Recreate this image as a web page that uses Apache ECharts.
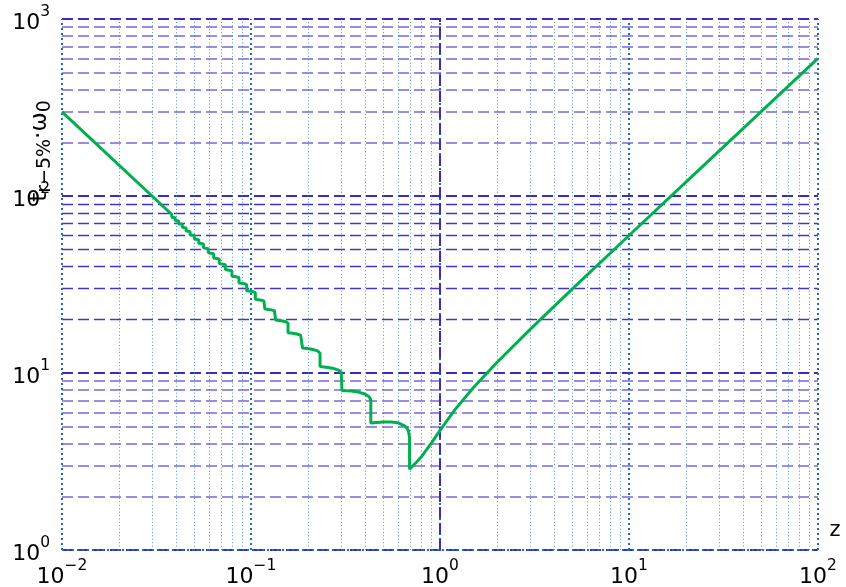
<!DOCTYPE html>
<html>
<head>
<meta charset="utf-8">
<title>Settling time vs damping</title>
<script src="https://cdn.jsdelivr.net/npm/echarts@6/dist/echarts.min.js"></script>
<style>
  html, body { margin: 0; padding: 0; background: #ffffff; }
  #chart { width: 846px; height: 587px; }
</style>
</head>
<body>
<div id="chart"></div>
<script>
// 5 % settling time (normalised by w0) of a second-order system versus damping ratio z
const dampingRatio = [
  0.01, 0.03812, 0.03812, 0.03970, 0.03970, 0.04142, 0.04142, 0.04331, 0.04331,
  0.04536, 0.04536, 0.04763, 0.04763, 0.05013, 0.05013, 0.05290, 0.05290,
  0.05601, 0.05601, 0.05949, 0.05949, 0.06345, 0.06345, 0.06796, 0.06796,
  0.07316, 0.07316, 0.07922, 0.07922, 0.08637, 0.08637, 0.0920, 0.0949, 0.0949,
  0.1020, 0.1054, 0.1054, 0.1135, 0.1170, 0.1184, 0.1184, 0.1280, 0.1330, 0.1350,
  0.1350, 0.1470, 0.1530, 0.1560, 0.1570, 0.1570, 0.1660, 0.1750, 0.1830, 0.1860,
  0.1873, 0.1873, 0.1980, 0.2100, 0.2250, 0.2300, 0.2319, 0.2319, 0.2500, 0.2700,
  0.2900, 0.3000, 0.3029, 0.3029, 0.3400, 0.3700, 0.4000, 0.4200, 0.4280, 0.4304,
  0.4304, 0.5000, 0.5500, 0.6000, 0.6500, 0.6600, 0.6700, 0.6800, 0.6850, 0.6900,
  0.6900, 0.70, 0.75, 0.80, 0.90, 1.0, 1.2, 1.5, 2.0, 3.0, 5.0, 10, 20, 50, 100
];
const settlingTime = [
  299.0, 78.60, 75.93, 75.46, 72.81, 72.32, 69.68, 69.18, 66.55,
  66.04, 63.42, 62.90, 60.30, 59.77, 57.17, 56.63, 54.05,
  53.49, 50.93, 50.35, 47.81, 47.22, 44.69, 44.08, 41.58,
  40.95, 38.46, 37.82, 35.36, 34.69, 32.25, 31.98, 31.56, 29.16,
  28.86, 28.43, 26.07, 25.80, 25.57, 25.31, 22.99, 22.73, 22.48, 22.19,
  19.92, 19.68, 19.47, 19.28, 19.09, 16.87, 16.76, 16.60, 16.37, 16.20,
  15.99, 13.85, 13.76, 13.63, 13.34, 13.15, 12.92, 10.88, 10.79, 10.65,
  10.39, 10.14, 9.89, 7.97, 7.91, 7.80, 7.61, 7.36, 7.16, 6.96,
  5.22, 5.29, 5.29, 5.23, 5.03, 4.96, 4.86, 4.73, 4.62, 4.34,
  2.86, 2.90, 3.13, 3.38, 4.02, 4.74, 6.21, 8.26, 11.46, 17.63, 29.76, 59.81, 119.8, 299.6, 599.1
];

// axis decades and their exponent labels
const xDecades = [0.01, 0.1, 1, 10, 100];
const xTickLabels = ['\u22122', '\u22121', '0', '1', '2'];
const yDecades = [1, 10, 100, 1000];
const yTickLabels = ['0', '1', '2', '3'];

// minor grid positions
const xMinor = [
  0.02, 0.03, 0.04, 0.05, 0.06, 0.07, 0.08, 0.09,
  0.2, 0.3, 0.4, 0.5, 0.6, 0.7, 0.8, 0.9,
  2, 3, 4, 5, 6, 7, 8, 9,
  20, 30, 40, 50, 60, 70, 80, 90
];
const yMinorLow = [2, 3, 4, 5, 6, 7, 8, 9];
const yMinorMid = [20, 30, 40, 50, 60, 70, 80, 90];
const yMinorHigh = [200, 300, 400, 500, 600, 700, 800, 900];

const FONT = '"DejaVu Sans", "Liberation Sans", sans-serif';

const curve = dampingRatio.map((z, i) => [z, settlingTime[i]]);

function powLabel(value, decades, labels) {
  let best = 0;
  for (let i = 1; i < decades.length; i++) {
    if (Math.abs(Math.log10(decades[i]) - Math.log10(value)) <
        Math.abs(Math.log10(decades[best]) - Math.log10(value))) best = i;
  }
  return '{b|10}{s|' + labels[best] + '}';
}

const tickRich = {
  b: { fontSize: 22, fontFamily: FONT, color: '#000', lineHeight: 30, verticalAlign: 'bottom' },
  s: { fontSize: 15.5, fontFamily: FONT, color: '#000', lineHeight: 16, verticalAlign: 'top' }
};

const hDash = [11, 5];
const styleMajorH = { color: '#3b2bc2', width: 2, type: hDash, opacity: 1 };
const styleLightH = { color: '#9a8ce2', width: 2, type: hDash, opacity: 1 };
const styleDarkH = { color: '#4434cc', width: 1.4, type: hDash, opacity: 1 };
const styleMinorV = { color: '#3a8cc4', width: 1, type: [1, 2.4], opacity: 0.9 };
const styleMajorV = { color: '#1f6fae', width: 2, type: [2, 3], opacity: 1 };

function gridSeries(name, items, z) {
  return {
    name: name,
    type: 'line',
    data: [],
    z: z,
    silent: true,
    markLine: {
      silent: true,
      symbol: ['none', 'none'],
      label: { show: false },
      animation: false,
      emphasis: { disabled: true },
      data: items
    }
  };
}

const hItems = []
  .concat(yMinorLow.map(v => ({ yAxis: v, lineStyle: styleLightH })))
  .concat(yMinorMid.map(v => ({ yAxis: v, lineStyle: styleDarkH })))
  .concat(yMinorHigh.map(v => ({ yAxis: v, lineStyle: styleLightH })));
const hMajorItems = yDecades.map(v => ({ yAxis: v, lineStyle: styleMajorH }));
const vMinorItems = xMinor.map(v => ({ xAxis: v, lineStyle: styleMinorV }));
const vMajorItems = xDecades.map(v => ({ xAxis: v, lineStyle: styleMajorV }));
// dash-dot reference lines at z = 1 and at the bottom edge
const refItems = [
  { xAxis: 1, lineStyle: { color: '#3b2bc2', width: 2, type: hDash } },
  { yAxis: 1, lineStyle: { color: '#1f6fae', width: 2, type: [2, 3] } }
];

const chart = echarts.init(document.getElementById('chart'), null, { renderer: 'canvas' });
chart.setOption({
  animation: false,
  backgroundColor: '#ffffff',
  grid: { left: 62, right: 28, top: 19, bottom: 37, containLabel: false, outerBoundsMode: 'none' },
  xAxis: {
    type: 'log',
    logBase: 10,
    min: 0.01,
    max: 100,
    axisLine: { show: false },
    axisTick: { show: false },
    splitLine: { show: false },
    minorTick: { show: false },
    axisLabel: {
      margin: 8,
      formatter: v => powLabel(v, xDecades, xTickLabels),
      rich: tickRich
    }
  },
  yAxis: {
    type: 'log',
    logBase: 10,
    min: 1,
    max: 1000,
    axisLine: { show: false },
    axisTick: { show: false },
    splitLine: { show: false },
    minorTick: { show: false },
    axisLabel: {
      margin: 12,
      formatter: v => powLabel(v, yDecades, yTickLabels),
      rich: tickRich
    }
  },
  series: [
    gridSeries('hMinor', hItems, 1),
    gridSeries('hMajor', hMajorItems, 2),
    gridSeries('vMinor', vMinorItems, 3),
    gridSeries('vMajor', vMajorItems, 4),
    gridSeries('ref', refItems, 5),
    {
      name: 'settling time',
      type: 'line',
      data: curve,
      z: 10,
      showSymbol: false,
      symbol: 'none',
      smooth: false,
      lineStyle: { color: '#00b04f', width: 3 },
      emphasis: { disabled: true }
    }
  ],
  graphic: [
    {
      type: 'text',
      x: 42,
      y: 151,
      rotation: Math.PI / 2,
      z: 100,
      style: {
        text: '{b|t}{s|r\u22125%}{b|\u00b7\u03c9}{o|0}',
        align: 'center',
        verticalAlign: 'middle',
        rich: {
          b: { fontSize: 23, fontFamily: FONT, fill: '#000', lineHeight: 26, verticalAlign: 'top' },
          s: { fontSize: 19, fontFamily: FONT, fill: '#000', lineHeight: 20, verticalAlign: 'bottom' },
          o: { fontSize: 19, fontFamily: FONT, fill: '#000', lineHeight: 22, verticalAlign: 'bottom' }
        }
      }
    },
    {
      type: 'text',
      x: 835,
      y: 531,
      z: 100,
      style: {
        text: 'z',
        fontSize: 21,
        fontFamily: FONT,
        fill: '#000',
        align: 'center',
        verticalAlign: 'middle'
      }
    }
  ]
});
</script>
</body>
</html>
